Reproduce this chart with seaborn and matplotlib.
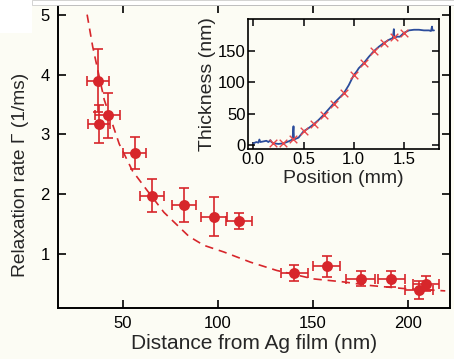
import matplotlib
matplotlib.use('Agg')
import matplotlib.pyplot as plt
import seaborn as sns
import pandas as pd
from matplotlib.patches import Rectangle

sns.set_theme(style='ticks')
plt.rcParams['font.family'] = ['Liberation Sans', 'DejaVu Sans']

# relaxation rate vs distance (main panel)
distance = [36.9, 37.4, 42.1, 56.4, 65.3, 82.2, 97.9, 111.2,
            140.2, 157.3, 175.2, 191.3, 205.8, 209.3]
rate = [3.90, 3.17, 3.32, 2.69, 1.98, 1.82, 1.63, 1.56,
        0.69, 0.80, 0.59, 0.59, 0.40, 0.51]
rate_err = [0.53, 0.32, 0.38, 0.27, 0.27, 0.28, 0.32, 0.13,
            0.14, 0.17, 0.125, 0.13, 0.15, 0.13]
dist_err = [5.9, 5.9, 6.7, 6.1, 6.2, 6.5, 6.8, 7.0,
            7.2, 7.0, 7.6, 7.2, 7.2, 6.8]

# dashed fit curve
fit_d = [31.3, 34.2, 40.3, 48.2, 55.2, 63.0, 71.7, 84.8, 92.7, 103.1,
         117.1, 131.1, 150.3, 166.0, 180.0, 197.4, 219.6]
fit_rate = [5.0, 4.47, 3.58, 2.84, 2.39, 2.06, 1.70, 1.30, 1.15, 1.04,
            0.87, 0.73, 0.59, 0.54, 0.48, 0.43, 0.39]

# inset: thickness profile
prof_x = [0.0, 0.03, 0.05, 0.06, 0.07, 0.10, 0.13, 0.15, 0.17, 0.18, 0.20,
          0.25, 0.30, 0.35, 0.39, 0.400, 0.405, 0.42, 0.45, 0.50, 0.55, 0.60,
          0.65, 0.70, 0.75, 0.80, 0.85, 0.90, 0.95, 1.00, 1.03, 1.05, 1.10,
          1.15, 1.20, 1.25, 1.30, 1.35, 1.39, 1.400, 1.405, 1.43, 1.46, 1.50,
          1.55, 1.60, 1.65, 1.70, 1.75, 1.77, 1.780, 1.785, 1.80]
prof_y = [3, 5, 4, 9, 5, 6, 7, 5, 8, 5, 3,
          2, 3, 6, 9, 30, 9, 10, 12, 22, 27, 33,
          40, 48, 57, 66, 74, 82, 95, 111, 117, 122, 130,
          140, 149, 156, 162, 167, 170, 184, 170, 172, 172, 178,
          182, 183, 183, 182, 182, 181, 188, 182, 182]
mark_x = [0.2, 0.3, 0.4, 0.5, 0.6, 0.7, 0.8, 0.9, 1.0, 1.1, 1.2, 1.3, 1.4, 1.5]
mark_y = [3, 3, 10, 22, 33, 48, 65, 82, 112, 130, 149, 162, 171, 178]

red = '#d7262b'
blue = '#2b4c9b'
bg = '#fcfcf4'

df = pd.DataFrame({'d': distance, 'g': rate})
fit = pd.DataFrame({'d': fit_d, 'g': fit_rate})
prof = pd.DataFrame({'x': prof_x, 'y': prof_y})
marks = pd.DataFrame({'x': mark_x, 'y': mark_y})

fig = plt.figure(figsize=(4.54, 3.59), dpi=100, facecolor=bg)
ax = fig.add_axes([0.1278, 0.143, 0.863, 0.843])
ax.set_facecolor(bg)

sns.lineplot(data=fit, x='d', y='g', color=red, lw=1.2, sort=False, ax=ax)
ax.lines[-1].set_dashes([5, 3.5])
ax.errorbar(distance, rate, yerr=rate_err, xerr=dist_err, fmt='none',
            ecolor=red, elinewidth=1.2, capsize=3.3, capthick=1.2)
sns.scatterplot(data=df, x='d', y='g', color=red, s=62, edgecolor=red,
                linewidth=0, ax=ax, zorder=5)

ax.set_xlim(16, 222)
ax.set_ylim(0.11, 5.16)
ax.set_xticks([50, 100, 150, 200])
ax.set_yticks([1, 2, 3, 4, 5])
ax.set_xlabel('Distance from Ag film (nm)', fontsize=15, labelpad=2)
ax.set_ylabel('Relaxation rate Γ (1/ms)', fontsize=13.8)
ax.yaxis.set_label_coords(-0.075, 0.44)
ax.tick_params(direction='in', top=True, right=True, length=6, width=1.2,
               labelsize=12, colors='black', pad=6)
for s in ax.spines.values():
    s.set_linewidth(1.4)
    s.set_color('black')

# inset
ins = fig.add_axes([0.547, 0.585, 0.42, 0.362])
ins.set_facecolor(bg)
sns.lineplot(data=prof, x='x', y='y', color=blue, lw=1.3, sort=False, ax=ins)
sns.scatterplot(data=marks, x='x', y='y', marker='x', color='#e8474a',
                s=30, linewidth=1.0, ax=ins, zorder=5)
ins.set_xlim(-0.05, 1.85)
ins.set_ylim(-6, 200)
ins.set_xticks([0.0, 0.5, 1.0, 1.5])
ins.set_xticklabels(['0.0', '0.5', '1.0', '1.5'])
ins.set_yticks([0, 50, 100, 150])
ins.set_xlabel('Position (mm)', fontsize=14, labelpad=2)
ins.set_ylabel('Thickness (nm)', fontsize=14, labelpad=1)
ins.tick_params(direction='in', top=True, right=True, length=5, width=1.1,
                labelsize=12, colors='black', pad=2)
for s in ins.spines.values():
    s.set_linewidth(1.2)
    s.set_color('black')

# white scan margin at the top-left corner
fig.patches.append(Rectangle((0, 1 - 33 / 359), 32 / 454, 33 / 359,
                             transform=fig.transFigure, facecolor='white',
                             edgecolor='none', zorder=0))
fig.patches.append(Rectangle((32 / 454, 1 - 5 / 359), 1, 5 / 359,
                             transform=fig.transFigure, facecolor='white',
                             edgecolor='#cccccc', lw=0.6, zorder=0))

fig.savefig('out.png', dpi=100, facecolor=bg)
